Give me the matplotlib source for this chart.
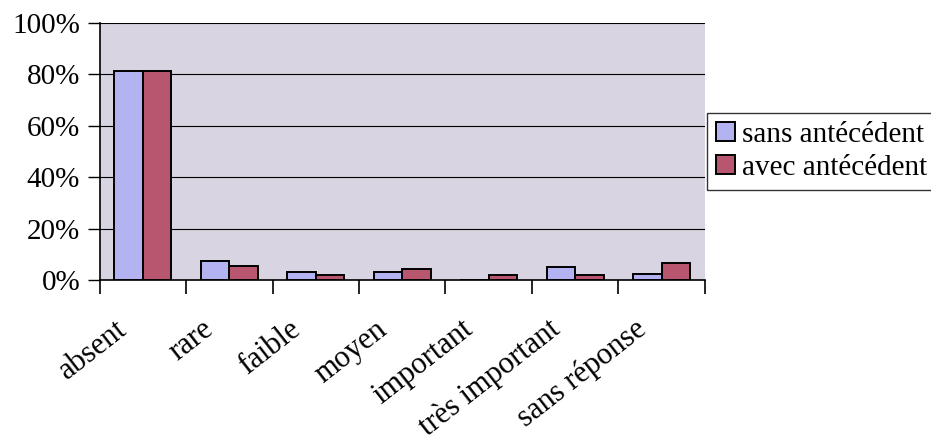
import numpy as np
import matplotlib.pyplot as plt
from matplotlib.ticker import FixedLocator, PercentFormatter

categories = ["absent", "rare", "faible", "moyen", "important", "très important", "sans réponse"]
sans_antecedent = [81.3, 7.5, 3.2, 3.2, 0.0, 4.9, 2.2]
avec_antecedent = [81.5, 5.6, 1.9, 4.4, 1.9, 1.9, 6.7]
series_labels = ["sans antécédent", "avec antécédent"]

plt.rcParams['font.family'] = ['Liberation Serif', 'DejaVu Serif']

fig = plt.figure(figsize=(9.31, 4.43), dpi=100)
ax = fig.add_axes([0.107, 0.368, 0.65, 0.58])
ax.set_facecolor('#d8d4e1')

x = np.arange(len(categories))
w = 0.33
ax.bar(x - w / 2, sans_antecedent, w, color='#b3b3f2', edgecolor='black', linewidth=1.4, label=series_labels[0], zorder=3)
ax.bar(x + w / 2, avec_antecedent, w, color='#b8566f', edgecolor='black', linewidth=1.4, label=series_labels[1], zorder=3)

ax.set_xlim(-0.5, len(categories) - 0.5)
ax.set_ylim(0, 100)
ax.set_yticks(np.arange(0, 101, 20))
ax.yaxis.set_major_formatter(PercentFormatter(decimals=0))
ax.yaxis.grid(True, color='black', linewidth=0.8, zorder=0)

ax.xaxis.set_major_locator(FixedLocator(np.arange(-0.5, len(categories), 1)))
ax.set_xticklabels([])
ax.tick_params(axis='x', length=10, width=1.2, direction='out')
ax.tick_params(axis='y', length=9, width=1, direction='out', labelsize=21, pad=5)

# rotated category labels, right end just left of the category centre
for xi, lab in zip(x, categories):
    ax.text(xi - 0.32, -13.5, lab, rotation=38, ha='right', va='top', fontsize=22,
            rotation_mode='anchor', clip_on=False)

for side in ['top', 'right']:
    ax.spines[side].set_visible(False)
ax.spines['left'].set_linewidth(1.2)
ax.spines['bottom'].set_linewidth(1.2)

leg = ax.legend(loc='upper left', bbox_to_anchor=(1.004, 0.65), fontsize=21, frameon=True,
                fancybox=False, edgecolor='black', handlelength=0.65, handleheight=0.65,
                handletextpad=0.25, borderpad=0.3, labelspacing=0.25, borderaxespad=0)
leg.get_frame().set_linewidth(1.0)

plt.savefig('out.png', dpi=100)
